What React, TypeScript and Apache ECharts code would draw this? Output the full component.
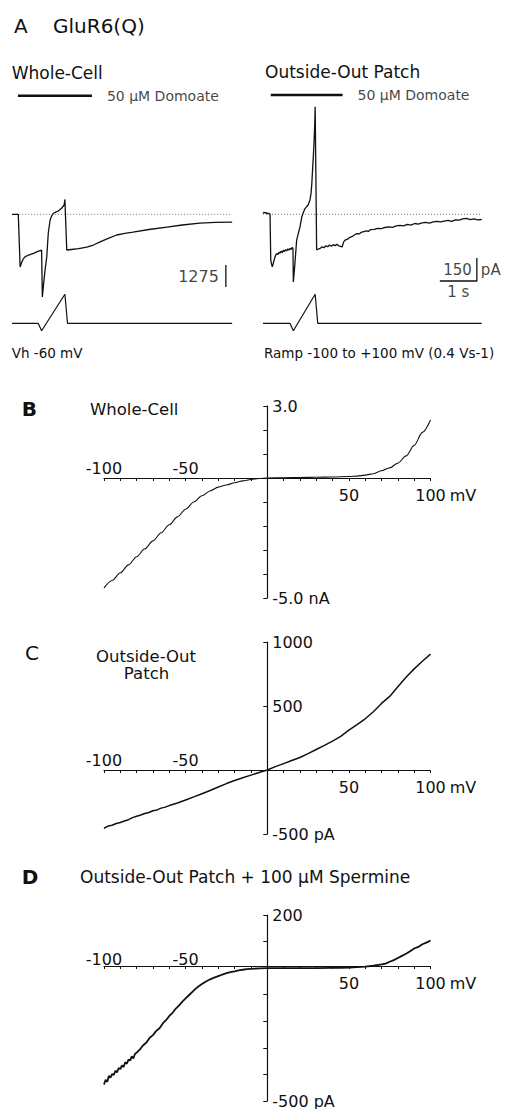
import React, { useEffect, useRef } from "react";
import * as echarts from "echarts";

// ---------- Panel A: current traces (time in s, current in pA) ----------
const wcTime = [0, 0.17, 0.22, 0.25, 0.3, 0.35, 0.45, 0.58, 0.7, 0.8, 0.82, 0.86, 0.9, 0.94, 0.98, 1.03, 1.08, 1.12, 1.18, 1.25, 1.34, 1.41, 1.43, 1.48, 1.6, 1.8, 2.02, 2.2, 2.38, 2.6, 2.83, 3.05, 3.27, 3.7, 4.19, 4.6, 5.08, 5.5, 5.95];
const wcCurrent = [0, 0, -3050, -2850, -2600, -2470, -2360, -2260, -2150, -2070, -4790, -3900, -3100, -2460, -1100, -330, -60, 60, 130, 190, 350, 540, 860, -2070, -2040, -1990, -1900, -1780, -1600, -1400, -1200, -1100, -1030, -880, -740, -620, -510, -470, -450];

const patchTime = [0, 0.03, 0.06, 0.09, 0.12, 0.16, 0.19, 0.21, 0.25, 0.28, 0.31, 0.34, 0.37, 0.4, 0.43, 0.46, 0.49, 0.52, 0.55, 0.58, 0.61, 0.64, 0.67, 0.7, 0.73, 0.76, 0.79, 0.81, 0.82, 0.86, 0.91, 0.96, 1.0, 1.05, 1.09, 1.14, 1.18, 1.22, 1.27, 1.3, 1.32, 1.34, 1.36, 1.38, 1.4, 1.41, 1.45, 1.5, 1.55, 1.6, 1.65, 1.7, 1.75, 1.8, 1.85, 1.9, 1.95, 2.0, 2.05, 2.1, 2.14, 2.18, 2.22, 2.3, 2.35, 2.4, 2.45, 2.5, 2.55, 2.6, 2.65, 2.7, 2.8, 2.85, 2.9, 3.0, 3.1, 3.2, 3.3, 3.4, 3.5, 3.6, 3.7, 3.8, 3.9, 4.0, 4.1, 4.2, 4.3, 4.4, 4.5, 4.6, 4.7, 4.8, 4.9, 5.0, 5.1, 5.2, 5.3, 5.4, 5.5, 5.6, 5.7, 5.8, 5.91];
const patchCurrent = [6, 14, 8, 12, 4, 6, 2, -300, -342, -318, -290, -268, -256, -262, -248, -254, -240, -250, -234, -244, -230, -238, -226, -234, -222, -230, -216, -224, -441, -330, -168, -120, -81, -16, 12, 39, 50, 61, 93, 140, 202, 290, 376, 470, 600, 702, -233, -226, -222, -212, -218, -205, -212, -200, -208, -198, -204, -196, -206, -210, -212, -180, -168, -160, -150, -146, -138, -130, -126, -128, -118, -114, -108, -112, -100, -98, -92, -94, -86, -82, -85, -76, -72, -76, -66, -70, -60, -64, -56, -52, -58, -50, -46, -50, -44, -40, -46, -36, -38, -30, -26, -34, -30, -36, -34];

// Voltage command (mV)
const wcRampTime = [0, 0.71, 0.8, 1.43, 1.5, 5.95];
const wcRampVoltage = [-60, -60, -100, 100, -60, -60];
const patchRampTime = [0, 0.73, 0.82, 1.41, 1.48, 5.91];
const patchRampVoltage = [-60, -60, -100, 100, -60, -60];

// Domoate application (s)
const wcDomoate = [0.16, 2.16];
const patchDomoate = [0.21, 2.15];
const wcBaselineSpan = [0.03, 5.95];
const patchBaselineSpan = [0.0, 5.91];

// Scale bars
const wcScalePA = 1275;
const patchScalePA = 150;
const scaleTimeS = 1;

// ---------- Panel B: whole-cell I-V (mV, nA) ----------
const bVoltage = [-100, -95, -90, -85, -80, -75, -70, -65, -60, -55, -50, -45, -40, -35, -30, -25, -20, -15, -10, -5, 0, 10, 20, 30, 40, 50, 55, 60, 65, 70, 75, 80, 85, 90, 95, 100];
const bCurrent = [-4.58, -4.27, -3.95, -3.62, -3.28, -2.95, -2.62, -2.28, -1.95, -1.62, -1.3, -1.0, -0.74, -0.54, -0.38, -0.29, -0.2, -0.12, -0.06, -0.02, 0, 0.01, 0.02, 0.03, 0.04, 0.06, 0.08, 0.12, 0.18, 0.3, 0.42, 0.62, 0.92, 1.36, 1.9, 2.42];

// ---------- Panel C: outside-out patch I-V (mV, pA) ----------
const cVoltage = [-100, -97.5, -95, -92.5, -90, -87.5, -85, -82.5, -80, -77.5, -75, -72.5, -70, -67.5, -65, -62.5, -60, -55, -50, -45, -40, -35, -30, -25, -20, -15, -10, -5, 0, 5, 10, 15, 20, 25, 30, 35, 40, 45, 50, 55, 60, 65, 70, 75, 80, 85, 90, 95, 100];
const cCurrent = [-455, -438, -432, -418, -410, -398, -388, -372, -362, -352, -340, -332, -318, -312, -298, -290, -278, -258, -234, -210, -185, -160, -133, -106, -82, -60, -40, -20, 0, 26, 50, 74, 98, 128, 160, 192, 225, 262, 312, 355, 400, 455, 520, 575, 650, 725, 790, 850, 905];

// ---------- Panel D: patch + spermine I-V (mV, pA) ----------
const dVoltage = [-100, -99, -98, -97, -96, -95, -94, -93, -92, -91, -90, -89, -88, -87, -86, -85, -84, -83, -82, -81, -80, -78, -76, -74, -72, -70, -68, -66, -64, -62, -60, -58, -56, -54, -52, -50, -48, -46, -44, -42, -40, -37.5, -35, -32.5, -30, -27.5, -25, -22.5, -20, -17.5, -15, -12.5, -10, -5, 0, 10, 20, 30, 40, 45, 50, 55, 60, 65, 70, 72.5, 75, 77.5, 80, 82.5, 85, 87.5, 90, 92.5, 95, 97.5, 100];
const dCurrent = [-438, -420, -428, -405, -412, -398, -402, -386, -392, -376, -380, -366, -372, -354, -360, -344, -348, -332, -340, -322, -318, -306, -290, -280, -262, -252, -236, -226, -208, -196, -180, -168, -152, -140, -126, -114, -102, -90, -78, -68, -60, -50, -42, -36, -30, -24, -19, -15, -12, -8, -6, -4, -3, -1, 0, 0, 0, 0, 1, 1, 2, 4, 6, 9, 14, 17, 24, 30, 38, 46, 54, 64, 74, 80, 90, 96, 104];

// I-V axis ranges and tick labels
const ivVoltageRange = [-100, 100];
const bRange = [-5, 3, 1];
const cRange = [-500, 1000, 500];
const dRange = [-500, 200, 100];
const bYLabels: Record<string, string> = { "3": "3.0", "-5": "-5.0 nA" };
const cYLabels: Record<string, string> = { "1000": "1000", "500": "500", "-500": "-500 pA" };
const dYLabels: Record<string, string> = { "200": "200", "-500": "-500 pA" };

const FONT = "'DejaVu Sans', sans-serif";
const ink = "#111";

const zip = (xs: number[], ys: number[]) => xs.map((x, i) => [x, ys[i]]);

function buildOption() {
  // layout constants (value-space placement of annotation rows)
  const wcBarLevel = 6873;
  const patchBarLevel = 778;
  const wcScaleX = 5.78;
  const wcScaleTop = -2940;
  const patchScaleX = 5.78;
  const patchScaleTop = -285;

  const ivLeft = 104;
  const ivWidth = 326.5;
  const ivBoxes = [
    { top: 406, height: 192, range: bRange, labels: bYLabels },
    { top: 642, height: 192, range: cRange, labels: cYLabels },
    { top: 915, height: 189, range: dRange, labels: dYLabels },
  ];

  const hiddenAxis = (gridIndex: number, min: number, max: number) => ({
    type: "value", gridIndex, min, max, show: false,
    axisLine: { onZero: false }, splitLine: { show: false },
  });

  const trace = (xi: number, yi: number, data: any[], width: number, extra: any = {}) => ({
    type: "line", xAxisIndex: xi, yAxisIndex: yi, data, symbol: "none", clip: false,
    silent: true, lineStyle: { color: ink, width }, ...extra,
  });

  const tag = (xi: number, yi: number, point: number[], text: string, position: string, distance: number, fontSize: number) => ({
    type: "scatter", xAxisIndex: xi, yAxisIndex: yi, symbol: "circle", symbolSize: 0, clip: false, silent: true,
    data: [point],
    label: { show: true, formatter: text, position, distance, fontSize, fontFamily: FONT, color: ink },
  });

  const labelStyle = { fontSize: 16, fontFamily: FONT, color: ink };

  // x axes placed on the zero-current line by offset (computed from the y range)
  const ivX = (gridIndex: number, box: any) => {
    const [ymin, ymax] = box.range;
    const fromBottom = (box.height * (0 - ymin)) / (ymax - ymin);
    const fromTop = (box.height * ymax) / (ymax - ymin);
    return [
      {
        type: "value", gridIndex, min: ivVoltageRange[0], max: ivVoltageRange[1], interval: 10, position: "bottom",
        offset: -fromBottom,
        axisLine: { onZero: false, lineStyle: { color: ink, width: 1.2 } },
        axisTick: { show: true, length: 3, lineStyle: { color: ink, width: 1 } },
        axisLabel: {
          margin: 9, ...labelStyle,
          formatter: (v: number) => (v === 50 ? "50" : v === 100 ? "100" : ""),
        },
        splitLine: { show: false },
        name: "mV", nameLocation: "end", nameGap: 18,
        nameTextStyle: { ...labelStyle, verticalAlign: "top", padding: [9, 0, 0, 0] },
      },
      {
        type: "value", gridIndex, min: ivVoltageRange[0], max: ivVoltageRange[1], interval: 10, position: "top",
        offset: -fromTop,
        axisLine: { show: false, onZero: false },
        axisTick: { show: false },
        axisLabel: {
          margin: 2, ...labelStyle,
          formatter: (v: number) => (v === -100 ? "-100" : v === -50 ? "-50" : ""),
        },
        splitLine: { show: false },
      },
    ];
  };

  // y axis placed on the zero-voltage line by offset
  const ivY = (gridIndex: number, box: any) => {
    const [ymin, ymax, step] = box.range;
    const fromLeft = (ivWidth * (0 - ivVoltageRange[0])) / (ivVoltageRange[1] - ivVoltageRange[0]);
    return {
      type: "value", gridIndex, min: ymin, max: ymax, interval: step, position: "left",
      offset: -fromLeft,
      axisLine: { onZero: false, lineStyle: { color: ink, width: 1.2 } },
      axisTick: { show: true, inside: false, length: 4, lineStyle: { color: ink, width: 1 } },
      axisLabel: {
        inside: true, margin: 5, ...labelStyle,
        formatter: (v: number) => box.labels[String(v)] ?? "",
      },
      splitLine: { show: false },
    };
  };

  const text = (x: number, y: number, t: string, fontSize: number, extra: any = {}) => ({
    type: "text", x, y, silent: true,
    style: {
      text: t, fontSize, fontFamily: FONT, fill: ink,
      align: extra.align || "left", textAlign: extra.align || "left",
      verticalAlign: "middle", textVerticalAlign: "middle",
      fontWeight: extra.fontWeight || "normal",
    },
  });

  return {
    animation: false,
    backgroundColor: "#fff",
    textStyle: { fontFamily: FONT },
    grid: [
      { left: 12, top: 88.33, width: 222, height: 212.25 },
      { left: 12, top: 294.3, width: 222, height: 36.4 },
      { left: 263, top: 88.57, width: 222, height: 211.6 },
      { left: 263, top: 294.3, width: 222, height: 36.4 },
      ...ivBoxes.map((b) => ({ left: ivLeft, top: b.top, width: ivWidth, height: b.height })),
    ],
    xAxis: [
      hiddenAxis(0, 0, 6),
      hiddenAxis(1, 0, 6),
      hiddenAxis(2, 0, 6),
      hiddenAxis(3, 0, 6),
      ...ivX(4, ivBoxes[0]),
      ...ivX(5, ivBoxes[1]),
      ...ivX(6, ivBoxes[2]),
    ],
    yAxis: [
      hiddenAxis(0, -5000, 7300),
      hiddenAxis(1, -100, 100),
      hiddenAxis(2, -560, 820),
      hiddenAxis(3, -100, 100),
      ivY(4, ivBoxes[0]),
      ivY(5, ivBoxes[1]),
      ivY(6, ivBoxes[2]),
    ],
    series: [
      // Whole-cell
      trace(0, 0, [[wcBaselineSpan[0], 0], [wcBaselineSpan[1], 0]], 0.8, { lineStyle: { color: "#555", width: 0.8, type: [1, 2] } }),
      trace(0, 0, zip(wcTime, wcCurrent), 1.3),
      trace(0, 0, [[wcDomoate[0], wcBarLevel], [wcDomoate[1], wcBarLevel]], 2.6),
      tag(0, 0, [wcDomoate[1], wcBarLevel], "50 µM Domoate", "right", 15, 14),
      trace(0, 0, [[wcScaleX, wcScaleTop], [wcScaleX, wcScaleTop - wcScalePA]], 1.3),
      tag(0, 0, [wcScaleX, wcScaleTop - wcScalePA / 2], String(wcScalePA), "left", 7, 16),
      trace(1, 1, zip(wcRampTime, wcRampVoltage), 1.2),
      // Outside-out patch
      trace(2, 2, [[patchBaselineSpan[0], 0], [patchBaselineSpan[1], 0]], 0.8, { lineStyle: { color: "#555", width: 0.8, type: [1, 2] } }),
      trace(2, 2, zip(patchTime, patchCurrent), 1.3),
      trace(2, 2, [[patchDomoate[0], patchBarLevel], [patchDomoate[1], patchBarLevel]], 2.6),
      tag(2, 2, [patchDomoate[1], patchBarLevel], "50 µM Domoate", "right", 15, 14),
      trace(2, 2, [
        [patchScaleX - scaleTimeS, patchScaleTop - patchScalePA],
        [patchScaleX, patchScaleTop - patchScalePA],
        [patchScaleX, patchScaleTop],
      ], 1.3),
      tag(2, 2, [patchScaleX, patchScaleTop - patchScalePA / 2], String(patchScalePA), "left", 5, 15),
      tag(2, 2, [patchScaleX, patchScaleTop - patchScalePA / 2], "pA", "right", 4, 15),
      tag(2, 2, [patchScaleX - scaleTimeS / 2, patchScaleTop - patchScalePA], `${scaleTimeS} s`, "bottom", 3, 15),
      trace(3, 3, zip(patchRampTime, patchRampVoltage), 1.2),
      // I-V curves
      trace(4, 4, zip(bVoltage, bCurrent), 1.1, { smooth: 0.3, smoothMonotone: "x" }),
      trace(6, 5, zip(cVoltage, cCurrent), 1.5),
      trace(8, 6, zip(dVoltage, dCurrent), 1.8),
    ],
    graphic: {
      elements: [
        text(14, 26, "A", 20),
        text(53, 26, "GluR6(Q)", 20),
        text(11.7, 73.3, "Whole-Cell", 17),
        text(265, 71.7, "Outside-Out Patch", 17),
        text(11.7, 352.7, "Vh -60 mV", 13.5),
        text(264, 352.7, "Ramp -100 to +100 mV (0.4 Vs-1)", 13.5),
        text(21.7, 409, "B", 20, { fontWeight: "bold" }),
        text(90, 409.3, "Whole-Cell", 16.5),
        text(25, 653, "C", 20),
        text(146, 656.5, "Outside-Out", 16.5, { align: "center" }),
        text(146.5, 673.5, "Patch", 16.5, { align: "center" }),
        text(21.7, 876.7, "D", 20, { fontWeight: "bold" }),
        text(80, 876.7, "Outside-Out Patch + 100 µM Spermine", 17),
      ],
    },
  };
}

export default function App() {
  const ref = useRef<HTMLDivElement>(null);
  useEffect(() => {
    if (!ref.current) return;
    const chart = echarts.init(ref.current, null, { renderer: "svg" });
    chart.setOption(buildOption() as any);
    return () => chart.dispose();
  }, []);
  return (
    <div
      ref={ref}
      style={{ position: "fixed", left: 0, top: 0, width: 510, height: 1109, background: "#fff" }}
    />
  );
}
